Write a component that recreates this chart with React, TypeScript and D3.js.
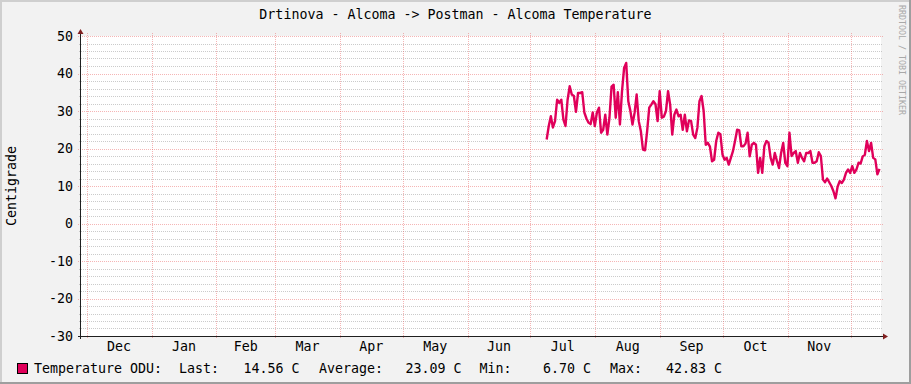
import React from "react";
import * as d3 from "d3";

// ---- data ----
const TITLE = "Drtinova - Alcoma -> Postman - Alcoma Temperature";
const Y_LABEL = "Centigrade";
const WATERMARK = "RRDTOOL / TOBI OETIKER";
const TIME_START = "2022-11-28T06:45:00Z";
const TIME_END = "2023-12-15T11:30:00Z";
const SERIES_START = "2023-07-08T18:00:00Z"; // daily samples from here
const monthLabels = ["Dec", "Jan", "Feb", "Mar", "Apr", "May", "Jun", "Jul", "Aug", "Sep", "Oct", "Nov"];
const yTicks = [50, 40, 30, 20, 10, 0, -10, -20, -30];
const Y_MIN = -30;
const Y_MAX = 50;
const MINOR_STEP = 2;
const temps = [
  22.4, 26, 28.6, 25.6, 27.3, 33, 32.2, 33, 27.7, 26,
  33, 36.6, 34.4, 34, 29.8, 34.8, 34.8, 35, 29.6, 28,
  26.9, 26.5, 29.6, 26, 29.6, 30.9, 24.2, 25, 29, 23.7,
  28.2, 36.5, 37, 28.2, 35, 26.4, 35.3, 41.5, 42.83, 32.6,
  30, 26.4, 29.5, 34.4, 27.3, 24.6, 19.7, 19.5, 24.6, 30.9,
  31.7, 32.6, 31.8, 27.3, 35.3, 28.2, 28.5, 30, 35.3, 31.7,
  23.7, 29, 30.4, 28.6, 29, 25, 29, 24.6, 27.5, 27.3,
  23.7, 22.8, 25.5, 32.6, 34, 30, 21, 21.5, 20.5, 16.6,
  17, 22, 24.2, 23.8, 18.4, 17, 17.5, 15.7, 17.5, 19.3,
  22, 25, 24.8, 20.6, 20.6, 21.3, 24.2, 17.9, 21, 21.5,
  21, 13.5, 17.5, 13.5, 20.6, 22, 21.5, 17.5, 15.7, 18.8,
  16.7, 14.8, 18.8, 21.5, 16.2, 15.3, 24.2, 18, 18.8, 19.3,
  16.2, 18.8, 17.5, 16.6, 18.8, 18.8, 19.3, 16.2, 16.2, 16.6,
  19, 18, 11.7, 11, 12, 11, 10, 8.6, 6.7, 9.8,
  11.3, 10.8, 11.7, 13.5, 14.4, 13.5, 15.3, 13.5, 14.4, 16.2,
  16, 17.9, 18.3, 22, 19.3, 21.5, 17.5, 17.1, 13.1, 14.56,
];
const legendName = "Temperature ODU:";
const legendStats = [
  { label: "Last:", value: "14.56 C" },
  { label: "Average:", value: "23.09 C" },
  { label: "Min:", value: "6.70 C" },
  { label: "Max:", value: "42.83 C" },
];

// ---- layout / style ----
const W = 911;
const H = 384;
const PLOT = { left: 81, right: 881, top: 36, bottom: 336 };
const LINE_COLOR = "#E0005A";
const FONT = "'DejaVu Sans Mono', monospace";
const FS = 13.3;
const GRID = "rgba(181,181,181,0.7)";
const MGRID = "rgba(232,92,92,0.45)";
const ARROW = "#801F1F";
const AXIS = "#1F1F1F";
// x positions of legend pieces
const legendLabelX = [179, 319, 479.5, 610];
const legendValueX = [243.5, 405.5, 543, 666];

export default function App() {
  const x = d3
    .scaleUtc()
    .domain([new Date(TIME_START), new Date(TIME_END)])
    .range([PLOT.left, PLOT.right]);
  const y = d3.scaleLinear().domain([Y_MIN, Y_MAX]).range([PLOT.bottom, PLOT.top]);

  const start = new Date(SERIES_START);
  const points = temps.map((v, i) => ({ t: d3.utcDay.offset(start, i), v }));
  const line = d3
    .line<{ t: Date; v: number }>()
    .x((d) => x(d.t))
    .y((d) => y(d.v));

  const months = d3.utcMonth.range(d3.utcMonth.ceil(x.domain()[0]), x.domain()[1]);
  const minor = d3.range(Y_MIN, Y_MAX + 1, MINOR_STEP).filter((v) => v % 10 !== 0);
  const crisp = (v: number) => Math.round(v) + 0.5;

  const axisY = crisp(y(Y_MIN));
  const axisX = crisp(PLOT.left) - 1;

  return (
    <svg
      width={W}
      height={H}
      style={{ position: "absolute", left: 0, top: 0, display: "block" }}
      fontFamily={FONT}
    >
      <rect x={0} y={0} width={W} height={H} fill="#F2F2F2" />
      {/* shaded frame */}
      <line x1={0} y1={1} x2={W} y2={1} stroke="#CFCFCF" strokeWidth={2} />
      <line x1={1} y1={0} x2={1} y2={H} stroke="#CFCFCF" strokeWidth={2} />
      <line x1={0} y1={H - 1} x2={W} y2={H - 1} stroke="#9E9E9E" strokeWidth={2} />
      <line x1={W - 1} y1={0} x2={W - 1} y2={H} stroke="#9E9E9E" strokeWidth={2} />

      {/* canvas */}
      <rect
        x={PLOT.left}
        y={PLOT.top}
        width={PLOT.right - PLOT.left}
        height={PLOT.bottom - PLOT.top}
        fill="#FFFFFF"
      />

      {/* minor horizontal grid */}
      {minor.map((v) => (
        <line
          key={"mn" + v}
          x1={PLOT.left - 2}
          x2={PLOT.right + 2}
          y1={crisp(y(v))}
          y2={crisp(y(v))}
          stroke={GRID}
          strokeDasharray="1,1"
        />
      ))}
      {/* major horizontal grid */}
      {yTicks.map((v) => (
        <line
          key={"mj" + v}
          x1={PLOT.left - 3}
          x2={PLOT.right + 3}
          y1={crisp(y(v))}
          y2={crisp(y(v))}
          stroke={MGRID}
          strokeDasharray="1,1"
        />
      ))}
      {/* vertical month grid */}
      {months.map((m) => (
        <line
          key={"vm" + m.toISOString()}
          x1={crisp(x(m))}
          x2={crisp(x(m))}
          y1={PLOT.top - 3}
          y2={PLOT.bottom + 3}
          stroke={MGRID}
          strokeDasharray="1,1"
        />
      ))}

      {/* data */}
      <path d={line(points) || ""} fill="none" stroke={LINE_COLOR} strokeWidth={2.4} strokeLinejoin="round" />

      {/* axes */}
      <line x1={PLOT.left - 3} x2={PLOT.right + 2} y1={axisY} y2={axisY} stroke={AXIS} />
      <line x1={axisX} x2={axisX} y1={PLOT.bottom + 3} y2={PLOT.top - 2} stroke={AXIS} />
      <path
        d={`M${PLOT.right + 2},${axisY - 3} L${PLOT.right + 7},${axisY} L${PLOT.right + 2},${axisY + 3} Z`}
        fill={ARROW}
      />
      <path
        d={`M${axisX - 3},${PLOT.top - 2} L${axisX},${PLOT.top - 7} L${axisX + 3},${PLOT.top - 2} Z`}
        fill={ARROW}
      />

      {/* y tick labels */}
      {yTicks.map((v) => (
        <text key={"yl" + v} x={73} y={y(v) + 4.7} fontSize={FS} textAnchor="end" fill="#000">
          {String(v)}
        </text>
      ))}

      {/* month labels */}
      {months.slice(0, monthLabels.length).map((m, i) => {
        const next = months[i + 1];
        if (!next) return null;
        const cx = (x(m) + x(next)) / 2;
        return (
          <text key={"ml" + i} x={cx} y={351} fontSize={FS} textAnchor="middle" fill="#000">
            {monthLabels[i]}
          </text>
        );
      })}

      {/* title */}
      <text x={W / 2} y={19.3} fontSize={FS} textAnchor="middle" fill="#000">
        {TITLE}
      </text>

      {/* y axis label */}
      <text
        transform={`translate(16,${(PLOT.top + PLOT.bottom) / 2}) rotate(-90)`}
        fontSize={FS}
        textAnchor="middle"
        fill="#000"
      >
        {Y_LABEL}
      </text>

      {/* watermark */}
      <text transform="translate(899,5) rotate(90)" fontSize={8.3} fill="#A8A8A8">
        {WATERMARK}
      </text>

      {/* legend */}
      <rect x={17.5} y={363.5} width={10} height={10} fill={LINE_COLOR} stroke="#000" />
      <text x={34} y={372.5} fontSize={FS} fill="#000" xmlSpace="preserve">
        {legendName}
      </text>
      {legendStats.map((s, i) => (
        <g key={"lg" + i}>
          <text x={legendLabelX[i]} y={372.5} fontSize={FS} fill="#000">
            {s.label}
          </text>
          <text x={legendValueX[i]} y={372.5} fontSize={FS} fill="#000" xmlSpace="preserve">
            {s.value}
          </text>
        </g>
      ))}
    </svg>
  );
}
